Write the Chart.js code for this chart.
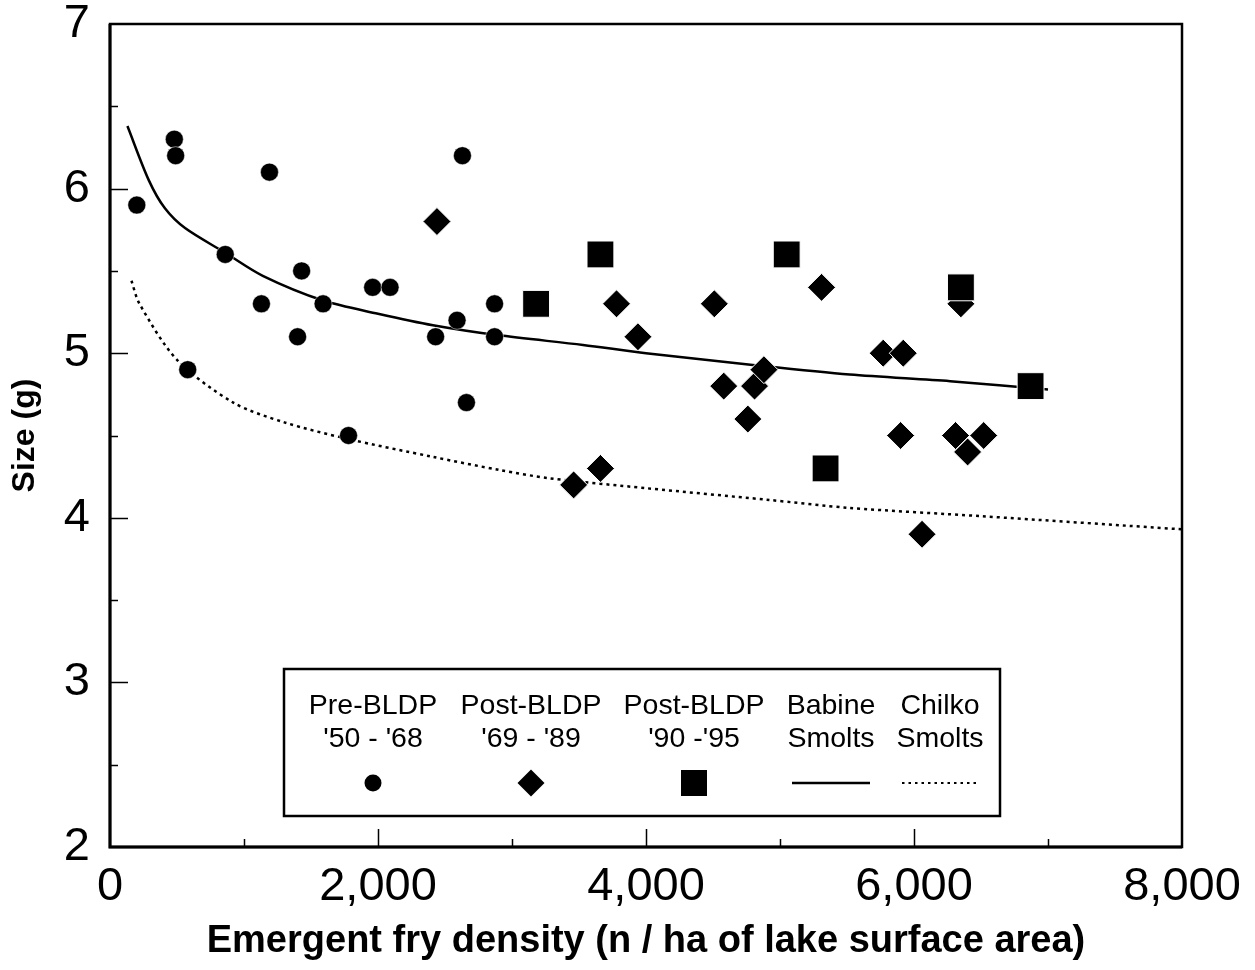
<!DOCTYPE html>
<html><head><meta charset="utf-8">
<script src="https://cdn.jsdelivr.net/npm/chart.js@4"></script>
<style>html,body{margin:0;padding:0;background:#fff}</style>
</head><body>
<canvas id="c" width="1255" height="970"></canvas>
<script>
// ---- data ----
const preX  = [200, 480, 490, 580, 860, 1130, 1190, 1400, 1430, 1590, 1780, 1960, 2090, 2430, 2590, 2630, 2660, 2870, 2870];
const preY  = [5.9, 6.3, 6.2, 4.9, 5.6, 5.3, 6.1, 5.1, 5.5, 5.3, 4.5, 5.4, 5.4, 5.1, 5.2, 6.2, 4.7, 5.3, 5.1];
const midX  = [2440, 3460, 3660, 3780, 3940, 4510, 4580, 4760, 4810, 4880, 5310, 5770, 5920, 5900, 6060, 6310, 6350, 6400, 6520];
const midY  = [5.8, 4.2, 4.3, 5.3, 5.1, 5.3, 4.8, 4.6, 4.8, 4.9, 5.4, 5.0, 5.0, 4.5, 3.9, 4.5, 5.3, 4.4, 4.5];
const lateX = [3180, 3660, 5050, 5340, 6350, 6870];
const lateY = [5.3, 5.6, 5.6, 4.3, 5.4, 4.8];
const babineX = [130, 290, 410, 560, 860, 1140, 1590, 2000, 2410, 2890, 3530, 4000, 4780, 5520, 6270, 7000];
const babineY = [6.38, 6.05, 5.88, 5.76, 5.61, 5.47, 5.32, 5.24, 5.17, 5.11, 5.05, 5.00, 4.93, 4.87, 4.83, 4.78];
const chilkoX = [160, 220, 500, 920, 1300, 1770, 2410, 2910, 3280, 4000, 4900, 5520, 6500, 8000];
const chilkoY = [5.44, 5.30, 4.96, 4.70, 4.58, 4.48, 4.37, 4.29, 4.24, 4.18, 4.11, 4.06, 4.01, 3.93];
const xTickLabels = ['0', '2,000', '4,000', '6,000', '8,000'];
const yTickLabels = ['2', '3', '4', '5', '6', '7'];
const legendLines = [["Pre-BLDP", "'50 - '68"], ["Post-BLDP", "'69 - '89"], ["Post-BLDP", "'90 -'95"], ["Babine", "Smolts"], ["Chilko", "Smolts"]];
const xTitle = 'Emergent fry density (n / ha of lake surface area)';
const yTitle = 'Size (g)';

const pts = (xs, ys) => xs.map((x, i) => ({x, y: ys[i]}));
const FONT = "'Liberation Sans', Arial, Helvetica, sans-serif";
Chart.defaults.font.family = FONT;
Chart.defaults.color = '#000';

const framePlugin = {
  id: 'frame',
  afterDatasetsDraw(chart) {
    const {ctx, chartArea: a, scales: {x, y}} = chart;
    ctx.save();
    ctx.strokeStyle = '#000';
    ctx.lineWidth = 1.5;
    ctx.beginPath();
    for (let v = y.min + 0.5; v < y.max; v += 0.5) {
      const py = Math.round(y.getPixelForValue(v)) + 0.5;
      const len = Math.abs(v - Math.round(v)) < 1e-6 ? 18 : 8;
      ctx.moveTo(a.left, py); ctx.lineTo(a.left + len, py);
    }
    for (let v = x.min + 1000; v < x.max; v += 1000) {
      const px = Math.round(x.getPixelForValue(v)) + 0.5;
      const len = (v % 2000 === 0) ? 18 : 8;
      ctx.moveTo(px, a.bottom); ctx.lineTo(px, a.bottom - len);
    }
    ctx.stroke();
    ctx.lineWidth = 2.5;
    ctx.strokeRect(a.left, a.top, a.right - a.left, a.bottom - a.top);
    ctx.lineWidth = 3;
    ctx.beginPath();
    ctx.moveTo(a.left, a.top); ctx.lineTo(a.left, a.bottom); ctx.lineTo(a.right, a.bottom);
    ctx.stroke();
    ctx.restore();
  },
  afterDraw(chart) {
    const {ctx} = chart;
    ctx.save();
    const L = 284, T = 669, R = 1000, B = 816;
    ctx.fillStyle = '#fff';
    ctx.fillRect(L, T, R - L, B - T);
    ctx.strokeStyle = '#000';
    ctx.lineWidth = 2.5;
    ctx.strokeRect(L, T, R - L, B - T);
    const cx = [373, 531, 694, 831, 940];
    ctx.fillStyle = '#000';
    ctx.font = '28.5px ' + FONT;
    ctx.textAlign = 'center';
    ctx.textBaseline = 'alphabetic';
    legendLines.forEach((lines, i) => {
      ctx.fillText(lines[0], cx[i], 714);
      ctx.fillText(lines[1], cx[i], 747);
    });
    const sy = 783;
    ctx.beginPath(); ctx.arc(cx[0], sy, 8.5, 0, Math.PI * 2); ctx.fill();
    ctx.beginPath();
    ctx.moveTo(cx[1] - 13.5, sy); ctx.lineTo(cx[1], sy - 13.5); ctx.lineTo(cx[1] + 13.5, sy); ctx.lineTo(cx[1], sy + 13.5);
    ctx.closePath(); ctx.fill();
    ctx.fillRect(cx[2] - 13, sy - 13, 26, 26);
    ctx.lineWidth = 2.5;
    ctx.beginPath(); ctx.moveTo(cx[3] - 39, sy); ctx.lineTo(cx[3] + 39, sy); ctx.stroke();
    ctx.lineWidth = 2;
    ctx.setLineDash([2.5, 4]);
    ctx.beginPath(); ctx.moveTo(cx[4] - 38, sy); ctx.lineTo(cx[4] + 38, sy); ctx.stroke();
    ctx.restore();
  }
};

new Chart(document.getElementById('c'), {
  type: 'scatter',
  data: {
    datasets: [
      {label: 'Post-BLDP 90-95', data: pts(lateX, lateY), pointStyle: 'rect', pointRadius: 19, pointHoverRadius: 19,
       backgroundColor: '#000', borderColor: '#fff', borderWidth: 1, order: 1},
      {label: 'Post-BLDP 69-89', data: pts(midX, midY), pointStyle: 'rectRot', pointRadius: 14, pointHoverRadius: 14,
       backgroundColor: '#000', borderColor: '#fff', borderWidth: 1, order: 2},
      {label: 'Pre-BLDP 50-68', data: pts(preX, preY), pointStyle: 'circle', pointRadius: 9, pointHoverRadius: 9,
       backgroundColor: '#000', borderColor: '#fff', borderWidth: 0.5, order: 3},
      {type: 'line', label: 'Babine Smolts', data: pts(babineX, babineY), borderColor: '#000', borderWidth: 2.5,
       pointRadius: 0, fill: false, tension: 0.3, order: 4},
      {type: 'line', label: 'Chilko Smolts', data: pts(chilkoX, chilkoY), borderColor: '#000', borderWidth: 2.5,
       borderDash: [3, 4], pointRadius: 0, fill: false, tension: 0.3, order: 5}
    ]
  },
  options: {
    responsive: false,
    animation: false,
    devicePixelRatio: 1,
    layout: {padding: {left: 0, right: 73, top: 24, bottom: 0}},
    plugins: {legend: {display: false}, tooltip: {enabled: false}},
    scales: {
      x: {
        type: 'linear', min: 0, max: 8000,
        afterFit(s) { s.height = 123; s.paddingLeft = 0; s.paddingRight = 0; },
        ticks: {stepSize: 2000, padding: 12, font: {size: 47}, color: '#000',
                callback: (v) => xTickLabels[Math.round(v / 2000)]},
        grid: {display: false, drawTicks: false},
        border: {display: false},
        title: {display: true, text: xTitle, font: {size: 38, weight: 'bold'}, color: '#000', padding: {top: 0, bottom: 6}}
      },
      y: {
        type: 'linear', min: 2, max: 7,
        afterFit(s) { s.width = 110; s.paddingTop = 0; s.paddingBottom = 0; },
        ticks: {stepSize: 1, padding: 20, font: {size: 47, lineHeight: 1.0}, color: '#000',
                callback: (v) => yTickLabels[Math.round(v - 2)]},
        grid: {display: false, drawTicks: false},
        border: {display: false},
        title: {display: true, text: yTitle, font: {size: 32, weight: 'bold'}, color: '#000', padding: {top: 6, bottom: 0}}
      }
    }
  },
  plugins: [framePlugin]
});
</script>
</body></html>
